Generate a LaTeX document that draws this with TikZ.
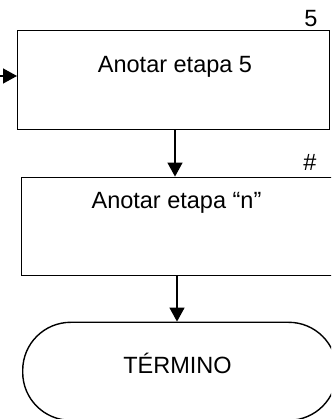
\documentclass[tikz,border=0pt]{standalone}
\usepackage{fontspec}
\setmainfont{Liberation Sans}
\usetikzlibrary{arrows.meta}
\begin{document}
\begin{tikzpicture}[x=1pt,y=1pt,
  box/.style={draw=black,line width=1.4pt,fill=white},
  txt/.style={font=\fontsize{23.5}{27}\selectfont,inner sep=0pt},
  conn/.style={draw=black,line width=1.4pt,-{Triangle[length=14pt,width=15pt]}}]
\useasboundingbox (0,0) rectangle (331,419);
\clip (0,0) rectangle (331,419);
\node[box,minimum width=312pt,minimum height=99.5pt,anchor=south west,inner sep=0pt] (b1) at (17,288.5) {};
\node[box,minimum width=320pt,minimum height=98pt,anchor=south west,inner sep=0pt] (b2) at (21,143) {};
\node[box,rounded corners=48pt,minimum width=314pt,minimum height=98pt,anchor=south west,inner sep=0pt] (t) at (22,-2) {};
\node[txt] (l1) at (175,352) {Anotar etapa 5};
\node[txt] (l2) at (176.5,216) {Anotar etapa “n”};
\node[txt] (l3) at (177.5,56) {TÉRMINO};
\node[txt,anchor=base] (n1) at (311,392) {5};
\node[txt,anchor=base] (n2) at (310,248) {\#};
\coordinate (in) at (0,343);
\draw[conn] (in) -- (b1.west |- in);
\draw[conn] (b1.south -| 175,0) -- (b2.north -| 175,0);
\draw[conn] (b2.south -| 177,0) -- (t.north -| 177,0);
\end{tikzpicture}
\end{document}
